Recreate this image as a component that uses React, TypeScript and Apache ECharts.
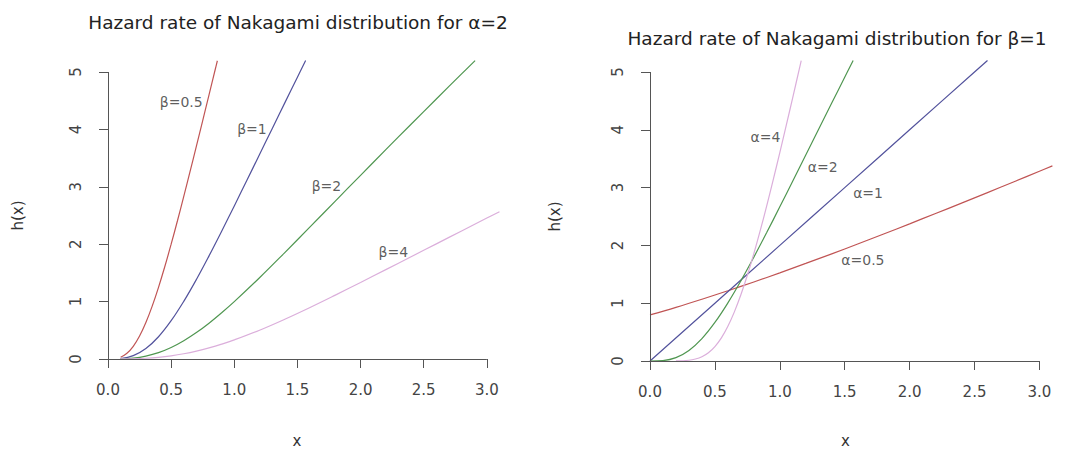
import React, { useEffect, useRef } from "react";
import * as echarts from "echarts";

const leftTitle = "Hazard rate of Nakagami distribution for α=2";
const rightTitle = "Hazard rate of Nakagami distribution for β=1";

const xTicks = [0, 0.5, 1, 1.5, 2, 2.5, 3];
const yTicks = [0, 1, 2, 3, 4, 5];

// Left panel: alpha = 2, varying beta
const b05X = [0.1, 0.15, 0.2, 0.25, 0.3, 0.35, 0.4, 0.45, 0.5, 0.55, 0.6, 0.65, 0.7, 0.75, 0.8, 0.85, 0.866];
const b05Y = [0.031, 0.099, 0.221, 0.4, 0.635, 0.921, 1.249, 1.611, 2.0, 2.409, 2.833, 3.267, 3.708, 4.154, 4.602, 5.052, 5.196];
const b1X = [0.1, 0.2, 0.3, 0.4, 0.5, 0.6, 0.7, 0.8, 0.9, 1.0, 1.1, 1.2, 1.3, 1.4, 1.5, 1.565];
const b1Y = [0.008, 0.059, 0.183, 0.388, 0.667, 1.005, 1.386, 1.797, 2.226, 2.667, 3.114, 3.563, 4.013, 4.462, 4.909, 5.199];
const b2X = [0.1, 0.2, 0.3, 0.4, 0.5, 0.6, 0.7, 0.8, 0.9, 1.0, 1.2, 1.4, 1.6, 1.8, 2.0, 2.2, 2.4, 2.6, 2.8, 2.907];
const b2Y = [0.002, 0.015, 0.05, 0.11, 0.2, 0.318, 0.46, 0.624, 0.806, 1.0, 1.416, 1.854, 2.301, 2.751, 3.2, 3.647, 4.09, 4.53, 4.967, 5.199];
const b4X = [0.1, 0.2, 0.3, 0.4, 0.5, 0.6, 0.7, 0.8, 0.9, 1.0, 1.2, 1.4, 1.6, 1.8, 2.0, 2.2, 2.4, 2.6, 2.8, 3.0, 3.1];
const b4Y = [0.0005, 0.004, 0.013, 0.03, 0.056, 0.092, 0.138, 0.194, 0.259, 0.333, 0.502, 0.693, 0.898, 1.113, 1.333, 1.557, 1.781, 2.006, 2.231, 2.455, 2.566];

// Right panel: beta = 1, varying alpha
const a05X = [0, 0.2, 0.4, 0.6, 0.8, 1.0, 1.2, 1.4, 1.6, 1.8, 2.0, 2.2, 2.4, 2.6, 2.8, 3.0, 3.1];
const a05Y = [0.798, 0.929, 1.069, 1.215, 1.367, 1.525, 1.688, 1.854, 2.024, 2.197, 2.373, 2.552, 2.731, 2.914, 3.098, 3.283, 3.375];
const a1X = [0, 0.5, 1.0, 1.5, 2.0, 2.5, 2.6];
const a1Y = [0, 1.0, 2.0, 3.0, 4.0, 5.0, 5.2];
const a2X = [0, 0.1, 0.2, 0.3, 0.4, 0.5, 0.6, 0.7, 0.8, 0.9, 1.0, 1.1, 1.2, 1.3, 1.4, 1.5, 1.565];
const a2Y = [0, 0.008, 0.059, 0.183, 0.388, 0.667, 1.005, 1.386, 1.797, 2.226, 2.667, 3.114, 3.563, 4.013, 4.462, 4.909, 5.199];
const a4X = [0.2, 0.3, 0.35, 0.4, 0.45, 0.5, 0.55, 0.6, 0.65, 0.7, 0.75, 0.8, 0.85, 0.9, 0.95, 1.0, 1.05, 1.1, 1.15, 1.165];
const a4Y = [0.001, 0.013, 0.034, 0.074, 0.143, 0.25, 0.401, 0.601, 0.85, 1.145, 1.483, 1.858, 2.263, 2.693, 3.142, 3.606, 4.08, 4.562, 5.049, 5.196];

const leftLabels = ["β=0.5", "β=1", "β=2", "β=4"];
const leftLabelX = [0.58, 1.14, 1.73, 2.26];
const leftLabelY = [4.48, 4.0, 3.01, 1.87];
const rightLabels = ["α=4", "α=2", "α=1", "α=0.5"];
const rightLabelX = [0.89, 1.33, 1.68, 1.64];
const rightLabelY = [3.88, 3.36, 2.9, 1.74];

const RED = "#c05454";
const BLUE = "#52529c";
const GREEN = "#4f9650";
const PINK = "#dbaedb";
const AXIS = "#555";

const FONT = "DejaVu Sans";

const pair = (xs: number[], ys: number[]) => xs.map((x, i) => [x, ys[i]]);

export default function App() {
  const ref = useRef<HTMLDivElement>(null);
  useEffect(() => {
    if (!ref.current) return;
    const chart = echarts.init(ref.current, undefined, { renderer: "svg" });
    const axisCommon = {
      type: "value" as const,
      splitLine: { show: false },
      axisLine: { show: false, onZero: false },
      nameLocation: "middle" as const,
    };
    const xAxis = (idx: number, gap: number, shift: number) => ({
      ...axisCommon,
      gridIndex: idx,
      min: 0,
      max: 3.12,
      name: "x",
      nameGap: gap,
      nameTextStyle: { fontFamily: FONT, fontSize: 15, color: "#333", padding: [0, shift, 0, 0] },
      axisTick: { show: true, length: 9, customValues: xTicks, lineStyle: { color: AXIS, width: 1 } },
      axisLabel: {
        customValues: xTicks,
        fontFamily: FONT,
        fontSize: 15,
        color: "#444",
        margin: 23,
        formatter: (v: number) => v.toFixed(1),
      },
    });
    const yAxis = (idx: number, gap: number) => ({
      ...axisCommon,
      gridIndex: idx,
      min: 0,
      max: 5,
      name: "h(x)",
      nameGap: gap,
      nameTextStyle: { fontFamily: FONT, fontSize: 15, color: "#333" },
      axisTick: { show: true, length: 9, customValues: yTicks, lineStyle: { color: AXIS, width: 1 } },
      axisLabel: {
        customValues: yTicks,
        fontFamily: FONT,
        fontSize: 15,
        color: "#444",
        margin: 25,
        rotate: 90,
      },
    });
    const axisLines = {
      silent: true,
      symbol: ["none", "none"],
      label: { show: false },
      lineStyle: { color: AXIS, width: 1, type: "solid" as const },
      emphasis: { disabled: true },
      data: [
        [{ coord: [xTicks[0], yTicks[0]] }, { coord: [xTicks[xTicks.length - 1], yTicks[0]] }],
        [{ coord: [xTicks[0], yTicks[0]] }, { coord: [xTicks[0], yTicks[yTicks.length - 1]] }],
      ],
    };
    const line = (name: string, xs: number[], ys: number[], color: string, idx: number, withAxes = false) => ({
      type: "line" as const,
      name,
      xAxisIndex: idx,
      yAxisIndex: idx,
      data: pair(xs, ys),
      showSymbol: false,
      symbol: "none",
      smooth: 0.4,
      clip: false,
      lineStyle: { color, width: 1.2 },
      silent: true,
      ...(withAxes ? { markLine: axisLines } : {}),
    });
    const labels = (names: string[], xs: number[], ys: number[], idx: number) => ({
      type: "scatter" as const,
      xAxisIndex: idx,
      yAxisIndex: idx,
      symbolSize: 1,
      itemStyle: { color: "rgba(0,0,0,0)" },
      data: names.map((n, i) => ({ name: n, value: [xs[i], ys[i]] })),
      label: {
        show: true,
        position: "inside" as const,
        formatter: "{b}",
        fontFamily: FONT,
        fontSize: 14,
        color: "#333",
      },
      silent: true,
    });
    chart.setOption({
      animation: false,
      backgroundColor: "#fff",
      title: [
        {
          text: leftTitle,
          left: 293,
          top: 8,
          textAlign: "center",
          textStyle: { fontFamily: FONT, fontSize: 18.5, fontWeight: "normal", color: "#222" },
        },
        {
          text: rightTitle,
          left: 832,
          top: 24,
          textAlign: "center",
          textStyle: { fontFamily: FONT, fontSize: 18.5, fontWeight: "normal", color: "#222" },
        },
      ],
      grid: [
        { left: 108, top: 72, width: 394, height: 289 },
        { left: 650, top: 72, width: 405, height: 290 },
      ],
      xAxis: [xAxis(0, 74, 16), xAxis(1, 72, 14)],
      yAxis: [yAxis(0, 83), yAxis(1, 88)],
      series: [
        line("β=0.5", b05X, b05Y, RED, 0, true),
        line("β=1", b1X, b1Y, BLUE, 0),
        line("β=2", b2X, b2Y, GREEN, 0),
        line("β=4", b4X, b4Y, PINK, 0),
        line("α=0.5", a05X, a05Y, RED, 1, true),
        line("α=1", a1X, a1Y, BLUE, 1),
        line("α=2", a2X, a2Y, GREEN, 1),
        line("α=4", a4X, a4Y, PINK, 1),
        labels(leftLabels, leftLabelX, leftLabelY, 0),
        labels(rightLabels, rightLabelX, rightLabelY, 1),
      ],
    });
    return () => chart.dispose();
  }, []);
  return (
    <div
      ref={ref}
      style={{ position: "fixed", left: 0, top: 0, width: 1065, height: 453, background: "#fff" }}
    />
  );
}
